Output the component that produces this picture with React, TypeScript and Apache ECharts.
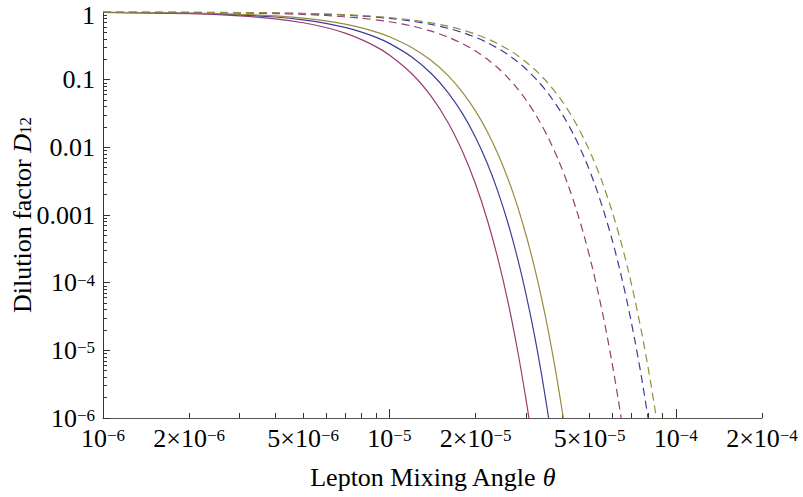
import React, { useEffect, useRef } from "react";
import * as echarts from "echarts";

// ---- Axis ticks / labels ----
const xLabelValues = [1e-6, 2e-6, 5e-6, 1e-5, 2e-5, 5e-5, 1e-4, 2e-4];
const xLabelTexts = ["10{s|−6}", "2×10{s|−6}", "5×10{s|−6}", "10{s|−5}", "2×10{s|−5}", "5×10{s|−5}", "10{s|−4}", "2×10{s|−4}"];
const xMajorTicks = [1e-6, 1e-5, 1e-4];
const xMinorTicks = [2e-6, 3e-6, 4e-6, 5e-6, 6e-6, 7e-6, 8e-6, 9e-6, 2e-5, 3e-5, 4e-5, 5e-5, 6e-5, 7e-5, 8e-5, 9e-5, 2e-4];

const yLabelValues = [1e-6, 1e-5, 1e-4, 1e-3, 1e-2, 1e-1, 1];
const yLabelTexts = ["10{s|−6}", "10{s|−5}", "10{s|−4}", "0.001", "0.01", "0.1", "{top|1}"];
const yMajorTicks = [1e-6, 1e-5, 1e-4, 1e-3, 1e-2, 1e-1, 1];
const yMinorTicks = [
  2e-6, 3e-6, 4e-6, 5e-6, 6e-6, 7e-6, 8e-6, 9e-6,
  2e-5, 3e-5, 4e-5, 5e-5, 6e-5, 7e-5, 8e-5, 9e-5,
  2e-4, 3e-4, 4e-4, 5e-4, 6e-4, 7e-4, 8e-4, 9e-4,
  2e-3, 3e-3, 4e-3, 5e-3, 6e-3, 7e-3, 8e-3, 9e-3,
  2e-2, 3e-2, 4e-2, 5e-2, 6e-2, 7e-2, 8e-2, 9e-2,
  0.2, 0.3, 0.4, 0.5, 0.6, 0.7, 0.8, 0.9,
];

// ---- Series data (theta, dilution factor) ----
const thetaSolidMagenta = [1e-6, 2e-6, 3e-6, 4e-6, 5e-6, 6e-6, 7e-6, 8e-6, 9e-6, 1e-5, 1.2e-5, 1.4e-5, 1.6e-5, 1.8e-5, 2e-5, 2.2e-5, 2.4e-5, 2.6e-5, 2.8e-5, 3e-5, 3.1e-5];
const dSolidMagenta = [0.9854, 0.943, 0.876, 0.791, 0.693, 0.59, 0.488, 0.391, 0.305, 0.231, 0.1212, 0.0565, 0.0235, 0.00866, 0.00284, 8.3e-4, 2.15e-4, 4.98e-5, 1.02e-5, 1.87e-6, 7.6e-7];

const thetaSolidBlue = [1e-6, 2e-6, 3e-6, 4e-6, 5e-6, 6e-6, 7e-6, 8e-6, 9e-6, 1e-5, 1.2e-5, 1.4e-5, 1.6e-5, 1.8e-5, 2e-5, 2.2e-5, 2.4e-5, 2.6e-5, 2.8e-5, 3e-5, 3.2e-5, 3.4e-5, 3.6e-5];
const dSolidBlue = [0.9894, 0.9582, 0.9084, 0.843, 0.766, 0.681, 0.593, 0.505, 0.4213, 0.344, 0.2151, 0.1234, 0.0651, 0.0315, 0.014, 0.00571, 0.00214, 7.36e-4, 2.32e-4, 6.73e-5, 1.8e-5, 4.39e-6, 9.84e-7];

const thetaSolidOlive = [1e-6, 2e-6, 3e-6, 4e-6, 5e-6, 6e-6, 7e-6, 8e-6, 9e-6, 1e-5, 1.2e-5, 1.4e-5, 1.6e-5, 1.8e-5, 2e-5, 2.2e-5, 2.4e-5, 2.6e-5, 2.8e-5, 3e-5, 3.2e-5, 3.4e-5, 3.6e-5, 3.8e-5, 4e-5, 4.1e-5];
const dSolidOlive = [0.9916, 0.9668, 0.9269, 0.8738, 0.8099, 0.7382, 0.6616, 0.583, 0.505, 0.4303, 0.2969, 0.1915, 0.1155, 0.0651, 0.0343, 0.01688, 0.00777, 0.00335, 0.00135, 5.06e-4, 1.78e-4, 5.84e-5, 1.8e-5, 5.15e-6, 1.38e-6, 6.98e-7];

const thetaDashedMagenta = [1e-6, 2e-6, 3e-6, 4e-6, 5e-6, 6e-6, 8e-6, 1e-5, 1.2e-5, 1.4e-5, 1.6e-5, 1.8e-5, 2e-5, 2.2e-5, 2.4e-5, 2.6e-5, 2.8e-5, 3e-5, 3.3e-5, 3.6e-5, 3.9e-5, 4.2e-5, 4.5e-5, 4.8e-5, 5.1e-5, 5.4e-5, 5.7e-5, 6e-5, 6.3e-5, 6.5e-5];
const dDashedMagenta = [0.9967, 0.9868, 0.9705, 0.9482, 0.9202, 0.8872, 0.8083, 0.7171, 0.6195, 0.5211, 0.4268, 0.3404, 0.2644, 0.1999, 0.1472, 0.1056, 0.0737, 0.0501, 0.02673, 0.01343, 0.00636, 0.00283, 0.00119, 4.7e-4, 1.75e-4, 6.14e-5, 2.03e-5, 6.31e-6, 1.85e-6, 7.9e-7];

const thetaDashedBlue = [1e-6, 2e-6, 3e-6, 4e-6, 5e-6, 6e-6, 8e-6, 1e-5, 1.2e-5, 1.4e-5, 1.6e-5, 1.8e-5, 2e-5, 2.2e-5, 2.4e-5, 2.6e-5, 2.8e-5, 3e-5, 3.3e-5, 3.6e-5, 4e-5, 4.4e-5, 4.8e-5, 5.2e-5, 5.6e-5, 6e-5, 6.4e-5, 6.8e-5, 7.2e-5, 7.6e-5, 8e-5, 8.2e-5];
const dDashedBlue = [0.9978, 0.9914, 0.9808, 0.9661, 0.9475, 0.9253, 0.871, 0.806, 0.733, 0.6552, 0.5757, 0.4971, 0.4219, 0.352, 0.2886, 0.2326, 0.1843, 0.1435, 0.0954, 0.0611, 0.0317, 0.01535, 0.00694, 0.00293, 0.00115, 4.24e-4, 1.45e-4, 4.65e-5, 1.39e-5, 3.88e-6, 1.01e-6, 5.0e-7];

const thetaDashedOlive = [1e-6, 2e-6, 3e-6, 4e-6, 5e-6, 6e-6, 8e-6, 1e-5, 1.2e-5, 1.4e-5, 1.6e-5, 1.8e-5, 2e-5, 2.2e-5, 2.4e-5, 2.6e-5, 2.8e-5, 3e-5, 3.3e-5, 3.6e-5, 4e-5, 4.4e-5, 4.8e-5, 5.2e-5, 5.6e-5, 6e-5, 6.4e-5, 6.8e-5, 7.2e-5, 7.6e-5, 8e-5, 8.4e-5, 8.7e-5];
const dDashedOlive = [0.9981, 0.9925, 0.9831, 0.9702, 0.9539, 0.9343, 0.8861, 0.8279, 0.7619, 0.6906, 0.6166, 0.5423, 0.4698, 0.4009, 0.3369, 0.2789, 0.2275, 0.1827, 0.1279, 0.0865, 0.0487, 0.02582, 0.01289, 0.00606, 0.00268, 0.00111, 4.37e-4, 1.61e-4, 5.59e-5, 1.83e-5, 5.63e-6, 1.63e-6, 6.2e-7];

const MAGENTA = "#993d71";
const BLUE = "#3d3d99";
const OLIVE = "#998b3d";
const FONT = "'Liberation Serif', 'Times New Roman', serif";

function lookup(values: number[], texts: string[], v: number): string {
  for (let i = 0; i < values.length; i++) {
    if (Math.abs(Math.log10(v) - Math.log10(values[i])) < 0.01) return texts[i];
  }
  return "";
}

function pairs(xs: number[], ys: number[]) {
  return xs.map((x, i) => [x, ys[i]]);
}

const labelRich = {
  s: { fontSize: 17, lineHeight: 16, verticalAlign: "top", fontFamily: FONT, color: "#000" },
  top: { fontSize: 26, lineHeight: 22, padding: [6, 0, 0, 0], fontFamily: FONT, color: "#000" },
};

export default function App() {
  const ref = useRef<HTMLDivElement>(null);
  useEffect(() => {
    document.body.style.margin = "0";
    if (!ref.current) return;
    const chart = echarts.init(ref.current, undefined, { renderer: "svg" });
    const baseLabel = { fontSize: 26, lineHeight: 22, fontFamily: FONT, color: "#000", rich: labelRich };
    const line = (name: string, xs: number[], ys: number[], color: string, dashed: boolean) => ({
      name,
      type: "line",
      xAxisIndex: 0,
      yAxisIndex: 0,
      data: pairs(xs, ys),
      showSymbol: false,
      smooth: 0.3,
      clip: true,
      lineStyle: { color, width: 1.2, type: dashed ? [8, 5] : "solid" },
      itemStyle: { color },
    });
    chart.setOption({
      animation: false,
      backgroundColor: "#fff",
      grid: { left: 103, right: 41, top: 12, bottom: 79, outerBoundsMode: "none" },
      xAxis: [
        {
          type: "log",
          logBase: 10,
          min: 1e-6,
          max: 2e-4,
          position: "bottom",
          axisLine: { show: true, lineStyle: { color: "#555", width: 1 } },
          axisTick: { show: true, inside: true, length: 9, customValues: xMajorTicks, lineStyle: { color: "#333" } },
          axisLabel: {
            show: true,
            customValues: xLabelValues,
            margin: 9,
            ...baseLabel,
            formatter: (v: number) => lookup(xLabelValues, xLabelTexts, v),
          },
          splitLine: { show: false },
          minorTick: { show: false },
          name: "Lepton Mixing Angle {i|θ}",
          nameLocation: "middle",
          nameGap: 46,
          nameMoveOverlap: false,
          nameTextStyle: {
            fontSize: 26,
            fontFamily: FONT,
            color: "#000",
            rich: { i: { fontSize: 26, fontStyle: "italic", fontFamily: FONT, color: "#000" } },
          },
        },
        {
          type: "log",
          logBase: 10,
          min: 1e-6,
          max: 2e-4,
          position: "bottom",
          axisLine: { show: false },
          axisTick: { show: true, inside: true, length: 5, customValues: xMinorTicks, lineStyle: { color: "#333" } },
          axisLabel: { show: false },
          splitLine: { show: false },
        },
      ],
      yAxis: [
        {
          type: "log",
          logBase: 10,
          min: 1e-6,
          max: 1,
          position: "left",
          axisLine: { show: true, lineStyle: { color: "#333", width: 1 } },
          axisTick: { show: true, inside: true, length: 7, customValues: yMajorTicks, lineStyle: { color: "#333" } },
          axisLabel: {
            show: true,
            customValues: yLabelValues,
            margin: 8,
            ...baseLabel,
            formatter: (v: number) => lookup(yLabelValues, yLabelTexts, v),
          },
          splitLine: { show: false },
          minorTick: { show: false },
          name: "Dilution factor {i|D}{sub|12}",
          nameLocation: "middle",
          nameGap: 69,
          nameRotate: 90,
          nameMoveOverlap: false,
          nameTextStyle: {
            fontSize: 26,
            lineHeight: 24,
            fontFamily: FONT,
            color: "#000",
            rich: {
              i: { fontSize: 26, lineHeight: 24, fontStyle: "italic", fontFamily: FONT, color: "#000" },
              sub: { fontSize: 17, lineHeight: 12, verticalAlign: "bottom", fontFamily: FONT, color: "#000" },
            },
          },
        },
        {
          type: "log",
          logBase: 10,
          min: 1e-6,
          max: 1,
          position: "left",
          axisLine: { show: false },
          axisTick: { show: true, inside: true, length: 4, customValues: yMinorTicks, lineStyle: { color: "#333" } },
          axisLabel: { show: false },
          splitLine: { show: false },
        },
      ],
      series: [
        line("solid magenta", thetaSolidMagenta, dSolidMagenta, MAGENTA, false),
        line("solid blue", thetaSolidBlue, dSolidBlue, BLUE, false),
        line("solid olive", thetaSolidOlive, dSolidOlive, OLIVE, false),
        line("dashed magenta", thetaDashedMagenta, dDashedMagenta, MAGENTA, true),
        line("dashed blue", thetaDashedBlue, dDashedBlue, BLUE, true),
        line("dashed olive", thetaDashedOlive, dDashedOlive, OLIVE, true),
      ],
    });
    return () => chart.dispose();
  }, []);
  return <div ref={ref} style={{ position: "fixed", left: 0, top: 0, width: 803, height: 497, background: "#fff" }} />;
}
